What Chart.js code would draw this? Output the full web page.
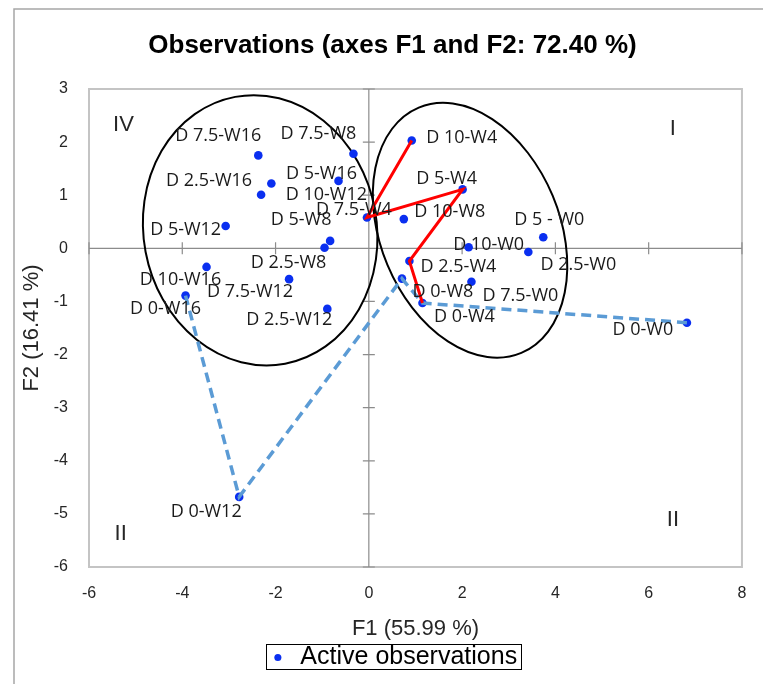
<!DOCTYPE html>
<html>
<head>
<meta charset="utf-8">
<script src="https://cdn.jsdelivr.net/npm/chart.js@4.4.0/dist/chart.umd.min.js"></script>
<style>
  html, body { margin: 0; padding: 0; background: #fff; }
</style>
</head>
<body>
<canvas id="chart" width="763" height="684"></canvas>
<script>
// observations (F1, F2 scores)
const obsLabels = ['D 0-W0', 'D 2.5-W0', 'D 5 - W0', 'D 7.5-W0', 'D 10-W0',
                   'D 0-W4', 'D 2.5-W4', 'D 5-W4', 'D 7.5-W4', 'D 10-W4',
                   'D 0-W8', 'D 2.5-W8', 'D 5-W8', 'D 7.5-W8', 'D 10-W8',
                   'D 0-W12', 'D 2.5-W12', 'D 5-W12', 'D 7.5-W12', 'D 10-W12',
                   'D 0-W16', 'D 2.5-W16', 'D 5-W16', 'D 7.5-W16', 'D 10-W16'];
const f1 = [6.82, 3.42, 3.74, 2.20, 2.14,
            1.15, 0.87, 2.01, -0.04, 0.92,
            0.71, -0.95, -0.83, -0.33, 0.75,
            -2.78, -0.89, -3.07, -1.71, -2.09,
            -3.93, -2.31, -0.65, -2.37, -3.48];
const f2 = [-1.40, -0.07, 0.21, -0.63, 0.02,
            -1.03, -0.24, 1.11, 0.58, 2.03,
            -0.57, 0.01, 0.14, 1.78, 0.55,
            -4.68, -1.14, 0.42, -0.58, 1.22,
            -0.89, 1.01, 1.27, 1.75, -0.35];

// paths joined on the map
const redPath = ['D 10-W4', 'D 7.5-W4', 'D 5-W4', 'D 2.5-W4', 'D 0-W4'];
const bluePath = ['D 0-W0', 'D 0-W4', 'D 0-W8', 'D 0-W12', 'D 0-W16'];

// tick labels
const xTicks = [-6, -4, -2, 0, 2, 4, 6, 8];
const yTicks = [-6, -5, -4, -3, -2, -1, 0, 1, 2, 3];

// quadrant names
const quadNames = ['IV', 'I', 'II', 'II'];
const quadX = [-5.26, 6.52, -5.32, 6.52];
const quadY = [2.32, 2.24, -5.37, -5.11];

// group ellipses: centre (F1, F2), semi axes in F1 units, tilt in degrees
const ellipseCx = [-2.33, 2.17];
const ellipseCy = [0.34, 0.34];
const ellipseA = [2.91, 2.85];
const ellipseB = [2.50, 1.92];
const ellipseTilt = [79.4, 67.3];

// label placement next to each dot (px, centre of text)
const labelOffset = [[-44, 7], [50, 13], [6, -17], [49, 14], [20, -2],
                     [42, 14], [49, 6], [-16, -11], [-13, -8], [50, -3],
                     [41, 13], [-36, 15], [-29, -21], [-35, -20], [46, -7],
                     [-33, 15], [-38, 11], [-40, 4], [-39, 13], [55, 11],
                     [-20, 13], [-52, -14], [-17, -7], [-40, -20], [-26, 13]];

const FONT = "'Liberation Sans', Arial, sans-serif";
const LABEL_FONT = "'Open Sans', 'Liberation Sans', sans-serif";

function pathPoints(names) {
    return names.map(n => {
        const i = obsLabels.indexOf(n);
        return { x: f1[i], y: f2[i] };
    });
}

// background, outer frame, axes through origin, ellipses, labels
const framePlugin = {
    id: 'frame',
    beforeDraw(chart) {
        const ctx = chart.ctx;
        const a = chart.chartArea;
        ctx.save();
        ctx.fillStyle = '#fff';
        ctx.fillRect(0, 0, chart.width, chart.height);
        ctx.strokeStyle = '#a6a6a6';
        ctx.lineWidth = 1.5;
        ctx.beginPath();
        ctx.moveTo(14, chart.height);
        ctx.lineTo(14, 9);
        ctx.lineTo(chart.width, 9);
        ctx.stroke();
        ctx.strokeStyle = '#c4c4c4';
        ctx.lineWidth = 2;
        ctx.strokeRect(a.left, a.top, a.right - a.left, a.bottom - a.top);
        ctx.restore();
    },
    beforeDatasetsDraw(chart) {
        const ctx = chart.ctx;
        const x = chart.scales.x, y = chart.scales.y;
        const a = chart.chartArea;
        const x0 = x.getPixelForValue(0), y0 = y.getPixelForValue(0);
        ctx.save();
        ctx.strokeStyle = '#8c8c8c';
        ctx.lineWidth = 1.2;
        ctx.beginPath();
        ctx.moveTo(x0, a.top); ctx.lineTo(x0, a.bottom);
        ctx.moveTo(a.left, y0); ctx.lineTo(a.right, y0);
        yTicks.forEach(v => {
            const p = y.getPixelForValue(v);
            ctx.moveTo(x0 - 6, p); ctx.lineTo(x0 + 6, p);
        });
        xTicks.forEach(v => {
            const p = x.getPixelForValue(v);
            ctx.moveTo(p, y0 - 6); ctx.lineTo(p, y0 + 6);
        });
        ctx.stroke();

        // ellipses
        const k = x.getPixelForValue(1) - x.getPixelForValue(0);
        ctx.strokeStyle = '#000';
        ctx.lineWidth = 2;
        ellipseCx.forEach((cx, i) => {
            ctx.beginPath();
            ctx.ellipse(x.getPixelForValue(cx), y.getPixelForValue(ellipseCy[i]),
                ellipseA[i] * k, ellipseB[i] * k, ellipseTilt[i] * Math.PI / 180, 0, 2 * Math.PI);
            ctx.stroke();
        });
        ctx.restore();
    },
    afterDatasetsDraw(chart) {
        const ctx = chart.ctx;
        const x = chart.scales.x, y = chart.scales.y;
        ctx.save();
        ctx.textAlign = 'center';
        ctx.textBaseline = 'middle';
        ctx.fillStyle = '#1a1a1a';
        ctx.font = '18px ' + LABEL_FONT;
        obsLabels.forEach((t, i) => {
            const px = x.getPixelForValue(f1[i]) + labelOffset[i][0];
            const py = y.getPixelForValue(f2[i]) + labelOffset[i][1];
            ctx.fillText(t, px, py);
        });
        ctx.font = '22px ' + FONT;
        ctx.fillStyle = '#262626';
        quadNames.forEach((t, i) => {
            ctx.fillText(t, x.getPixelForValue(quadX[i]), y.getPixelForValue(quadY[i]));
        });
        ctx.restore();
    },
    afterDraw(chart) {
        const lg = chart.legend;
        if (!lg || !lg.legendHitBoxes.length) return;
        const hb = lg.legendHitBoxes[0];
        const ctx = chart.ctx;
        ctx.save();
        ctx.strokeStyle = '#000';
        ctx.lineWidth = 1;
        ctx.strokeRect(Math.round(hb.left) - 1.5, Math.round(hb.top) - 0.5,
            Math.round(hb.width) + 6, Math.round(hb.height));
        ctx.restore();
    }
};

new Chart(document.getElementById('chart'), {
    type: 'scatter',
    data: {
        datasets: [
            {
                label: 'red',
                data: pathPoints(redPath),
                showLine: true,
                borderColor: '#ff0000',
                borderWidth: 3,
                pointRadius: 0,
                order: 0
            },
            {
                label: 'blue',
                data: pathPoints(bluePath),
                showLine: true,
                borderColor: '#5b9bd5',
                borderWidth: 3.5,
                borderDash: [10, 6],
                pointRadius: 0,
                order: 1
            },
            {
                label: 'Active observations',
                data: f1.map((v, i) => ({ x: v, y: f2[i] })),
                backgroundColor: '#0a2ff0',
                borderWidth: 0,
                pointRadius: 4.3,
                pointStyle: 'circle',
                order: 2
            }
        ]
    },
    options: {
        responsive: false,
        animation: false,
        devicePixelRatio: 1,
        layout: { padding: { left: 40, right: 18, top: 0, bottom: 4 } },
        plugins: {
            tooltip: { enabled: false },
            title: {
                display: true,
                text: 'Observations (axes F1 and F2: 72.40 %)',
                color: '#000',
                font: { family: FONT, size: 26, weight: 'bold' },
                padding: { top: 30, bottom: 27.8 }
            },
            legend: {
                position: 'bottom',
                labels: {
                    filter: item => item.text === 'Active observations',
                    usePointStyle: true,
                    boxWidth: 20,
                    boxHeight: 5,
                    padding: 4,
                    color: '#000',
                    font: { family: FONT, size: 25 }
                }
            }
        },
        scales: {
            x: {
                min: -6,
                max: 8,
                afterBuildTicks: s => { s.ticks = xTicks.map(v => ({ value: v })); },
                afterFit: s => { s.height = 74; },
                grid: { display: false, drawTicks: false },
                border: { display: false },
                ticks: { color: '#262626', padding: 16.6, font: { family: FONT, size: 16 } },
                title: {
                    display: true,
                    text: 'F1 (55.99 %)',
                    color: '#262626',
                    font: { family: FONT, size: 22 },
                    padding: { top: 0, bottom: -1.2 }
                }
            },
            y: {
                min: -6,
                max: 3,
                afterBuildTicks: s => { s.ticks = yTicks.map(v => ({ value: v })); },
                afterFit: s => { s.width = 49; },
                grid: { display: false, drawTicks: false },
                border: { display: false },
                ticks: { color: '#262626', padding: 21, font: { family: FONT, size: 16 } },
                title: {
                    display: true,
                    text: 'F2 (16.41 %)',
                    color: '#262626',
                    font: { family: FONT, size: 22 },
                    padding: { top: -21.2, bottom: 0 }
                }
            }
        }
    },
    plugins: [framePlugin]
});
</script>
</body>
</html>
